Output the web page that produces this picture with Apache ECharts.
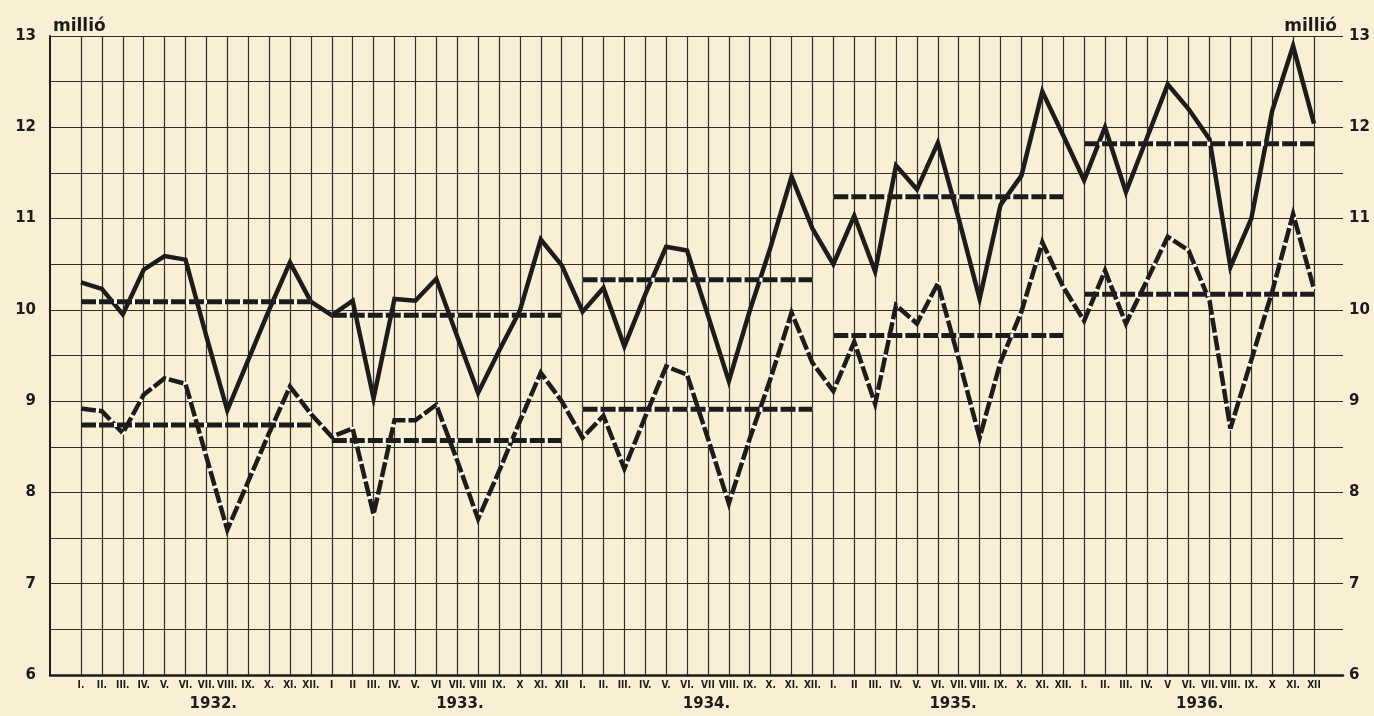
<!DOCTYPE html>
<html lang="hu">
  <head>
    <meta charset="UTF-8" />
    <title>millió</title>
    <script src="https://cdn.jsdelivr.net/npm/echarts@6/dist/echarts.min.js"></script>
    <style>
      html, body { margin: 0; padding: 0; background: #f9efd4; }
    </style>
  </head>
  <body>
    <div id="main" style="width: 1374px; height: 716px;"></div>
    <script type="text/javascript">
      // évek és hónapok (1932-1936)
      var years = ['1932.', '1933.', '1934.', '1935.', '1936.']
      var months = [
        'I.', 'II.', 'III.', 'IV.', 'V.', 'VI.', 'VII.', 'VIII.', 'IX.', 'X.', 'XI.', 'XII.',
        'I', 'II', 'III.', 'IV.', 'V.', 'VI', 'VII.', 'VIII', 'IX.', 'X', 'XI.', 'XII',
        'I.', 'II.', 'III.', 'IV.', 'V.', 'VI.', 'VII', 'VIII.', 'IX.', 'X.', 'XI.', 'XII.',
        'I.', 'II', 'III.', 'IV.', 'V.', 'VI.', 'VII.', 'VIII.', 'IX.', 'X.', 'XI.', 'XII.',
        'I.', 'II.', 'III.', 'IV.', 'V', 'VI.', 'VII.', 'VIII.', 'IX.', 'X', 'XI.', 'XII'
      ]

      // felső (folytonos) görbe, millió
      var upper = [
        10.30, 10.23, 9.95, 10.44, 10.59, 10.55, 9.71, 8.90, 9.45, 10.00, 10.52, 10.09,
        9.94, 10.10, 9.03, 10.12, 10.10, 10.34, 9.71, 9.09, 9.55, 9.99, 10.77, 10.49,
        9.98, 10.24, 9.60, 10.17, 10.69, 10.65, 9.94, 9.22, 9.99, 10.69, 11.46, 10.89,
        10.50, 11.03, 10.42, 11.58, 11.32, 11.83, 11.00, 10.12, 11.15, 11.47, 12.39, 11.91,
        11.42, 12.00, 11.29, 11.88, 12.47, 12.20, 11.87, 10.47, 11.00, 12.18, 12.89, 12.04
      ]
      // alsó (szaggatott) görbe, millió
      var lower = [
        8.92, 8.89, 8.65, 9.07, 9.25, 9.19, 8.39, 7.59, 8.12, 8.65, 9.16, 8.86,
        8.61, 8.70, 7.76, 8.79, 8.79, 8.96, 8.35, 7.71, 8.23, 8.78, 9.31, 9.00,
        8.60, 8.84, 8.26, 8.83, 9.38, 9.29, 8.59, 7.88, 8.59, 9.25, 9.97, 9.42,
        9.11, 9.65, 8.97, 10.05, 9.85, 10.29, 9.46, 8.60, 9.43, 9.98, 10.74, 10.25,
        9.88, 10.43, 9.85, 10.32, 10.80, 10.65, 10.10, 8.70, 9.45, 10.20, 11.05, 10.23
      ]
      // évi átlagok
      var upperAvg = [10.09, 9.94, 10.33, 11.24, 11.82]
      var lowerAvg = [8.74, 8.57, 8.91, 9.72, 10.17]

      var ink = '#1c1c1c'
      var gridInk = '#2e2e2e'
      var paper = '#f9efd4'
      var font = 'DejaVu Sans'

      var myChart = echarts.init(document.getElementById('main'))

      // szaggatott vonal: fehér alap + fekete szakaszok
      function dashed(name, data, width) {
        return [
          {
            name: name + '-alap', type: 'line', xAxisIndex: 1, yAxisIndex: 2,
            data: data, symbol: 'none', silent: true, connectNulls: false,
            lineStyle: { color: '#fffdf6', width: width - 1, join: 'round' }
          },
          {
            name: name, type: 'line', xAxisIndex: 1, yAxisIndex: 2,
            data: data, symbol: 'none', silent: true, connectNulls: false,
            lineStyle: { color: ink, width: width, type: [15, 3], join: 'miter', miterLimit: 4 }
          }
        ]
      }

      var series = [
        {
          name: 'felső', type: 'line', xAxisIndex: 1, yAxisIndex: 2,
          data: upper, symbol: 'none', silent: true,
          lineStyle: { color: ink, width: 4.5, join: 'miter', miterLimit: 5 }
        }
      ]
      series = series.concat(dashed('alsó', lower, 4.5))

      // évi átlagvonalak, évenként külön
      years.forEach(function (y, k) {
        var up = months.map(function (m, i) { return Math.floor(i / 12) === k ? upperAvg[k] : null })
        var lo = months.map(function (m, i) { return Math.floor(i / 12) === k ? lowerAvg[k] : null })
        series = series.concat(dashed('átlag felső ' + y, up, 5))
        series = series.concat(dashed('átlag alsó ' + y, lo, 5))
      })

      var yLabel = {
        formatter: function (v) { return v % 1 === 0 ? String(v) : '' },
        fontSize: 15, fontWeight: 'bold', fontFamily: font, color: ink
      }

      var option = {
        backgroundColor: paper,
        animation: false,
        grid: [
          { left: 50, right: 31, top: 36, bottom: 41 },
          { left: 81, right: 60, top: 36, bottom: 41 }
        ],
        xAxis: [
          {
            gridIndex: 0, type: 'value', min: 0, max: 1,
            axisLine: { show: true, onZero: false, lineStyle: { color: ink, width: 2.5 } },
            axisTick: { show: false }, axisLabel: { show: false }, splitLine: { show: false }
          },
          {
            gridIndex: 1, type: 'category', data: months, boundaryGap: false,
            axisLine: { show: false }, axisTick: { show: false },
            axisLabel: {
              interval: 0, margin: 5, fontSize: 10, fontWeight: 'bold',
              fontFamily: 'DejaVu Sans Condensed', color: ink
            },
            splitLine: { show: true, interval: 0, lineStyle: { color: gridInk, width: 1.2 } }
          },
          {
            gridIndex: 1, type: 'category', data: years, boundaryGap: true,
            position: 'bottom', offset: 19,
            axisLine: { show: false }, axisTick: { show: false }, splitLine: { show: false },
            axisLabel: {
              interval: 0, margin: 3, fontSize: 15, fontWeight: 'bold', fontFamily: font,
              color: ink, padding: [0, 0, 0, 18]
            }
          }
        ],
        yAxis: [
          {
            gridIndex: 0, type: 'value', position: 'left', min: 6, max: 13, interval: 0.5,
            name: 'millió', nameLocation: 'end', nameGap: 1,
            nameTextStyle: {
              align: 'left', verticalAlign: 'bottom', padding: [0, 0, 0, 3],
              fontSize: 17, fontWeight: 'bold', fontFamily: font, color: ink
            },
            axisLine: { show: true, lineStyle: { color: ink, width: 2 } },
            axisTick: { show: false },
            axisLabel: Object.assign({ margin: 14 }, yLabel),
            splitLine: { show: true, lineStyle: { color: gridInk, width: 1.2 } }
          },
          {
            gridIndex: 0, type: 'value', position: 'right', min: 6, max: 13, interval: 0.5,
            name: 'millió', nameLocation: 'end', nameGap: 1,
            nameTextStyle: {
              align: 'right', verticalAlign: 'bottom', padding: [0, 6, 0, 0],
              fontSize: 17, fontWeight: 'bold', fontFamily: font, color: ink
            },
            axisLine: { show: false }, axisTick: { show: false },
            axisLabel: Object.assign({ margin: 6 }, yLabel),
            splitLine: { show: false }
          },
          { gridIndex: 1, type: 'value', min: 6, max: 13, show: false }
        ],
        series: series
      }

      myChart.setOption(option)
    </script>
  </body>
</html>
